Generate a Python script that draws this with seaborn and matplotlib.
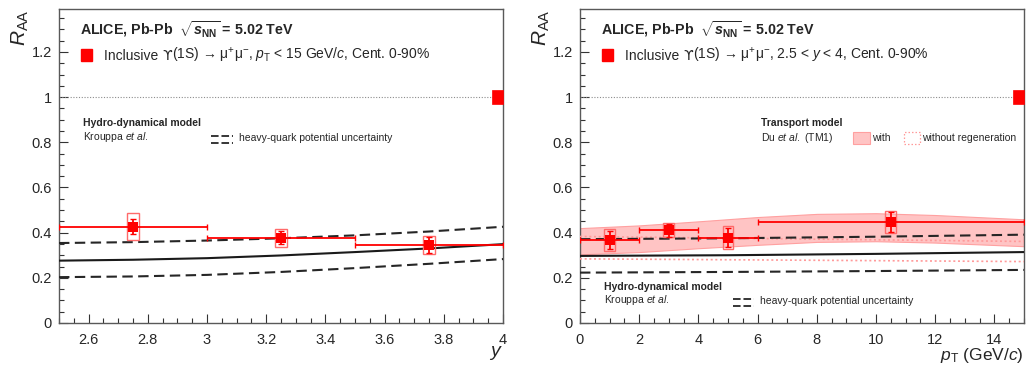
import numpy as np
import matplotlib
matplotlib.use("Agg")
import matplotlib.pyplot as plt
from matplotlib.patches import Rectangle
from matplotlib.lines import Line2D
from matplotlib.ticker import MultipleLocator, FuncFormatter
from matplotlib.transforms import ScaledTranslation
import seaborn as sns

# ---------------- data ----------------
# left panel: RAA vs rapidity
y_centers = [2.75, 3.25, 3.75]
y_halfwidth = [0.25, 0.25, 0.25]
raa_y = [0.427, 0.378, 0.347]
stat_y = [0.032, 0.028, 0.035]
syst_y = [0.059, 0.040, 0.040]

# right panel: RAA vs pT
pt_centers = [1.0, 3.0, 5.0, 10.5]
pt_halfwidth = [1.0, 1.0, 1.0, 4.5]
raa_pt = [0.368, 0.410, 0.378, 0.447]
stat_pt = [0.041, 0.029, 0.041, 0.043]
syst_pt = [0.049, 0.031, 0.050, 0.050]

global_unc = 0.031

# hydro model (Krouppa et al.) vs y
hy_y = [2.5, 2.75, 3.0, 3.25, 3.5, 3.75, 4.0]
hy_central = [0.276, 0.280, 0.287, 0.299, 0.314, 0.330, 0.349]
hy_upper = [0.354, 0.358, 0.365, 0.375, 0.388, 0.405, 0.426]
hy_lower = [0.203, 0.206, 0.213, 0.226, 0.243, 0.262, 0.283]

# hydro model vs pT
hp_pt = [0, 5, 10, 15]
hp_central = [0.297, 0.300, 0.306, 0.314]
hp_upper = [0.371, 0.375, 0.382, 0.391]
hp_lower = [0.223, 0.226, 0.230, 0.235]

# transport model (Du et al., TM1) vs pT
tm_pt = [0, 2, 4, 6, 8, 10, 12, 15]
tm_with_upper = [0.420, 0.432, 0.450, 0.469, 0.483, 0.486, 0.478, 0.459]
tm_with_lower = [0.304, 0.314, 0.331, 0.346, 0.359, 0.362, 0.356, 0.340]
tm_wo_pt = [0, 7.5, 15]
tm_wo_upper = [0.383, 0.372, 0.361]
tm_wo_lower = [0.284, 0.278, 0.272]

# ---------------- style ----------------
sns.set_theme(style="ticks")
plt.rcParams["font.family"] = ["Liberation Sans", "DejaVu Sans"]
plt.rcParams["mathtext.fontset"] = "custom"
plt.rcParams["mathtext.rm"] = "Liberation Sans"
plt.rcParams["mathtext.it"] = "Liberation Sans:italic"
plt.rcParams["mathtext.bf"] = "Liberation Sans:bold"
plt.rcParams["mathtext.sf"] = "Liberation Sans:bold:italic"

RED = "#ff0000"
BAND = "#ffc4c4"
BAND_EDGE = "#ffa0a0"
FRAME = "0.35"

fig = plt.figure(figsize=(10.32, 3.67), dpi=100)
axL = fig.add_axes([59 / 1032, 44 / 367, 444 / 1032, 314 / 367])
axR = fig.add_axes([580 / 1032, 44 / 367, 444 / 1032, 314 / 367])
renderer = fig.canvas.get_renderer()

YMAX = 1.39
TXT = 7.5


def style_axis(ax, xlim, xmajor, xminor):
    ax.set_xlim(*xlim)
    ax.set_ylim(0, YMAX)
    ax.xaxis.set_major_locator(MultipleLocator(xmajor))
    ax.xaxis.set_minor_locator(MultipleLocator(xminor))
    ax.yaxis.set_major_locator(MultipleLocator(0.2))
    ax.yaxis.set_minor_locator(MultipleLocator(0.05))
    fmt = FuncFormatter(lambda v, p: f"{v:g}")
    ax.xaxis.set_major_formatter(fmt)
    ax.yaxis.set_major_formatter(fmt)
    ax.tick_params(which="both", direction="in", color="0.2", labelsize=10.5,
                   top=False, right=False)
    ax.tick_params(which="major", length=6.5, width=0.8)
    ax.tick_params(which="minor", length=3.5, width=0.8)
    ax.tick_params(axis="x", pad=7)
    ax.tick_params(axis="y", pad=5)
    for s in ax.spines.values():
        s.set_color(FRAME)
        s.set_linewidth(1.0)
        s.set_visible(True)
    ax.axhline(1.0, color="0.55", lw=0.8, ls=(0, (1, 1.5)), zorder=1)
    ax.set_ylabel(r"$R_{\rm AA}$", fontsize=15, loc="top")
    ax.yaxis.set_label_coords(-0.062, 1.0)
    # global uncertainty box at the right edge
    w = (xlim[1] - xlim[0]) * 11 / 444
    ax.add_patch(Rectangle((xlim[1] - w, 1 - global_unc), w, 2 * global_unc,
                           facecolor=RED, edgecolor=RED, lw=0.5, zorder=5,
                           clip_on=False))


def draw_data(ax, xc, xhw, val, stat, syst, box_hw):
    for x, v, s in zip(xc, val, syst):
        ax.add_patch(Rectangle((x - box_hw, v - s), 2 * box_hw, 2 * s,
                               fill=False, edgecolor="#ff6a6a", lw=1.0, zorder=6))
    ax.errorbar(xc, val, xerr=xhw, yerr=stat, fmt="none", ecolor=RED,
                elinewidth=1.3, capsize=2.2, capthick=1.0, zorder=7)
    sns.scatterplot(x=xc, y=val, ax=ax, marker="s", s=60, color=RED,
                    edgecolor=RED, linewidth=0, zorder=8, legend=False)


def dash_symbol(ax, x0, x1, yc, dy):
    for yy in (yc + dy, yc - dy):
        ax.add_line(Line2D([x0, x1], [yy, yy], transform=ax.transAxes,
                           color="0.15", lw=1.3, ls=(0, (4.2, 1.6))))


def legend_line(ax, x, y, rest):
    """Text pieces on a common baseline; the upsilon comes from DejaVu Sans."""
    pieces = [("Inclusive ", None), ("\u03d2", ["DejaVu Sans"]), (rest, None)]
    dx = 0.0
    for s, fam in pieces:
        tr = ax.transAxes + ScaledTranslation(dx / fig.dpi, 0, fig.dpi_scale_trans)
        kw = {"family": fam} if fam else {}
        t = ax.text(x, y, s, transform=tr, fontsize=10, va="baseline", **kw)
        dx += t.get_window_extent(renderer).width + (0.5 if fam else 0)


DASH = (0, (5, 2.6))
ALICE = r"ALICE, Pb-Pb  $\sqrt{\mathsf{s}_{\mathbf{NN}}}$ = 5.02 TeV"

# ---------------- left panel ----------------
style_axis(axL, (2.5, 4.0), 0.2, 0.05)
sns.lineplot(x=hy_y, y=hy_central, ax=axL, color="0.1", lw=1.5, zorder=3)
sns.lineplot(x=hy_y, y=hy_upper, ax=axL, color="0.15", lw=1.5, linestyle=DASH, zorder=3)
sns.lineplot(x=hy_y, y=hy_lower, ax=axL, color="0.15", lw=1.5, linestyle=DASH, zorder=3)
draw_data(axL, y_centers, y_halfwidth, raa_y, stat_y, syst_y, 0.019)
axL.set_xlabel(r"$y$", fontsize=14, loc="right", va="baseline")
axL.xaxis.set_label_coords(1.0, -0.105)

axL.text(0.047, 0.933, ALICE, transform=axL.transAxes, fontsize=10.3,
         fontweight="bold", va="center")
axL.add_patch(Rectangle((0.061 - 0.0125, 0.853 - 0.02), 0.025, 0.04,
                        transform=axL.transAxes, color=RED))
legend_line(axL, 0.101, 0.838,
            "(1S) \u2192 \u03bc$^{+}$\u03bc$^{-}$, $p_{\\rm T}$ < 15 GeV/$c$, Cent. 0-90%")
axL.text(0.054, 0.637, "Hydro-dynamical model", transform=axL.transAxes,
         fontsize=TXT, fontweight="bold", va="center")
axL.text(0.054, 0.592, r"Krouppa $et\ al.$", transform=axL.transAxes,
         fontsize=TXT, va="center")
dash_symbol(axL, 0.342, 0.392, 0.585, 0.011)
axL.text(0.405, 0.590, "heavy-quark potential uncertainty",
         transform=axL.transAxes, fontsize=TXT, va="center")

# ---------------- right panel ----------------
style_axis(axR, (0, 15), 2, 0.5)
axR.fill_between(tm_pt, tm_with_lower, tm_with_upper, facecolor=BAND,
                 edgecolor=BAND_EDGE, lw=0.8, zorder=2)
sns.lineplot(x=tm_wo_pt, y=tm_wo_upper, ax=axR, color="#ff9a9a", lw=1.2,
             linestyle=(0, (1.2, 1.6)), zorder=3)
sns.lineplot(x=tm_wo_pt, y=tm_wo_lower, ax=axR, color="#ff9a9a", lw=1.2,
             linestyle=(0, (1.2, 1.6)), zorder=3)
sns.lineplot(x=hp_pt, y=hp_central, ax=axR, color="0.1", lw=1.5, zorder=3)
sns.lineplot(x=hp_pt, y=hp_upper, ax=axR, color="0.15", lw=1.5, linestyle=DASH, zorder=3)
sns.lineplot(x=hp_pt, y=hp_lower, ax=axR, color="0.15", lw=1.5, linestyle=DASH, zorder=3)
draw_data(axR, pt_centers, pt_halfwidth, raa_pt, stat_pt, syst_pt, 0.18)
axR.set_xlabel(r"$p_{\rm T}$ (GeV/$c$)", fontsize=12.5, loc="right", va="baseline")
axR.xaxis.set_label_coords(1.0, -0.118)

axR.text(0.047, 0.933, ALICE, transform=axR.transAxes, fontsize=10.3,
         fontweight="bold", va="center")
axR.add_patch(Rectangle((0.061 - 0.0125, 0.853 - 0.02), 0.025, 0.04,
                        transform=axR.transAxes, color=RED))
legend_line(axR, 0.101, 0.838,
            "(1S) \u2192 \u03bc$^{+}$\u03bc$^{-}$, 2.5 < $y$ < 4, Cent. 0-90%")
axR.text(0.408, 0.637, "Transport model", transform=axR.transAxes,
         fontsize=TXT, fontweight="bold", va="center")
axR.text(0.408, 0.589, r"Du $et\ al.$ (TM1)", transform=axR.transAxes,
         fontsize=TXT, va="center")
axR.add_patch(Rectangle((0.615, 0.570), 0.038, 0.037, transform=axR.transAxes,
                        facecolor=BAND, edgecolor=BAND_EDGE, lw=0.8))
axR.text(0.658, 0.589, "with", transform=axR.transAxes, fontsize=TXT, va="center")
axR.add_patch(Rectangle((0.730, 0.570), 0.036, 0.037, transform=axR.transAxes,
                        fill=False, edgecolor="#ff9a9a", lw=0.9, ls=(0, (1.2, 1.6))))
axR.text(0.770, 0.589, "without regeneration", transform=axR.transAxes,
         fontsize=TXT, va="center")
axR.text(0.054, 0.115, "Hydro-dynamical model", transform=axR.transAxes,
         fontsize=TXT, fontweight="bold", va="center")
axR.text(0.054, 0.073, r"Krouppa $et\ al.$", transform=axR.transAxes,
         fontsize=TXT, va="center")
dash_symbol(axR, 0.345, 0.392, 0.066, 0.011)
axR.text(0.405, 0.071, "heavy-quark potential uncertainty",
         transform=axR.transAxes, fontsize=TXT, va="center")

fig.savefig("out.png", dpi=100)
